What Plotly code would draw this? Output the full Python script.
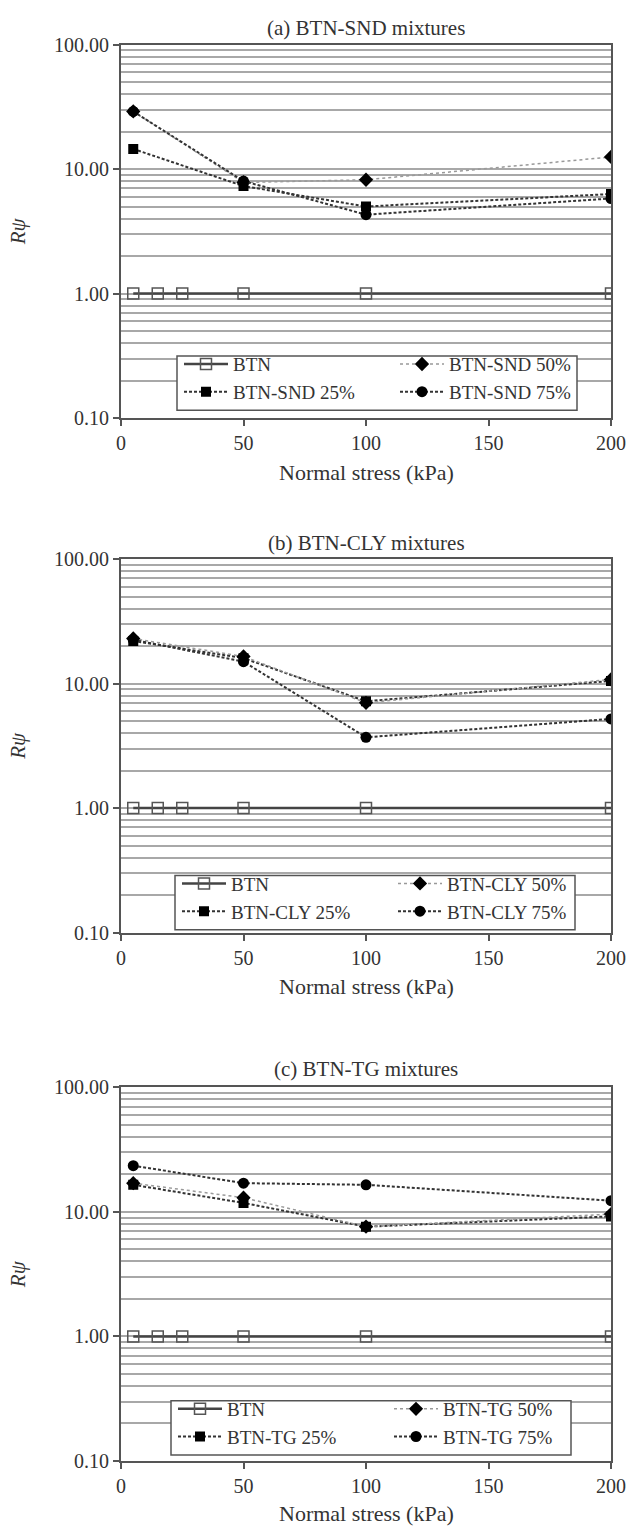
import plotly.graph_objects as go

# ---------------- data ----------------
x_btn = [5, 15, 25, 50, 100, 200]
y_btn = [1, 1, 1, 1, 1, 1]
x_mix = [5, 50, 100, 200]

snd_25 = [14.5, 7.3, 5.0, 6.3]
snd_50 = [29, 7.8, 8.2, 12.5]
snd_75 = [29, 8.0, 4.3, 5.8]

cly_25 = [22, 16, 7.2, 10.5]
cly_50 = [23, 16.5, 7.0, 10.8]
cly_75 = [22.5, 15, 3.7, 5.2]

tg_25 = [16.5, 11.8, 7.6, 9.2]
tg_50 = [17, 13, 7.6, 9.6]
tg_75 = [23.5, 17, 16.5, 12.3]

panels = [
    ("(a) BTN-SND mixtures", "BTN-SND", snd_25, snd_50, snd_75),
    ("(b) BTN-CLY mixtures", "BTN-CLY", cly_25, cly_50, cly_75),
    ("(c) BTN-TG mixtures", "BTN-TG", tg_25, tg_50, tg_75),
]

x_ticks = [0, 50, 100, 150, 200]
y_ticks = [0.1, 1, 10, 100]
y_ticktext = ["0.10", "1.00", "10.00", "100.00"]

# ---------------- layout geometry (pixels) ----------------
W, H = 631, 1535
ML, MR = 121, 20
plot_px = [(34, 413), (556, 935), (1092, 1471)]   # top, bottom of each plot area
title_px = [17, 540, 1073]
xtitle_px = [468, 990, 1524]
legend_box_px = [(177, 350, 577, 405), (175, 877, 575, 932), (171, 1410, 571, 1465)]

FONT = "Liberation Serif, Times New Roman, Times, serif"
GRID = "#a8a8a8"
AXC = "#555555"
TXT = "#333333"

fig = go.Figure()

def py(p):
    return 1 - p / H

def px_x(p):
    return (p - ML) / (W - ML - MR)

leg_idx = 1
for i, (title, name, s25, s50, s75) in enumerate(panels):
    n = "" if i == 0 else str(i + 1)
    xa, ya = "x" + n, "y" + n
    lgA = "legend" if leg_idx == 1 else "legend" + str(leg_idx)
    lgB = "legend" + str(leg_idx + 1)
    leg_idx += 2

    fig.add_trace(go.Scatter(
        x=x_btn, y=y_btn, name="BTN", mode="lines+markers",
        line=dict(color="#444444", width=2.5),
        marker=dict(symbol="square-open", size=11, color="#555555", line=dict(width=1.5)),
        xaxis=xa, yaxis=ya, legend=lgA, legendrank=1))
    fig.add_trace(go.Scatter(
        x=x_mix, y=s25, name=name + " 25%", mode="lines+markers",
        line=dict(color="#333333", width=2, dash="3px,2px"),
        marker=dict(symbol="square", size=10, color="black"),
        xaxis=xa, yaxis=ya, legend=lgA, legendrank=2))
    fig.add_trace(go.Scatter(
        x=x_mix, y=s50, name=name + " 50%", mode="lines+markers",
        line=dict(color="#999999", width=1.5, dash="dot"),
        marker=dict(symbol="diamond", size=11, color="black"),
        xaxis=xa, yaxis=ya, legend=lgB, legendrank=1))
    fig.add_trace(go.Scatter(
        x=x_mix, y=s75, name=name + " 75%", mode="lines+markers",
        line=dict(color="#333333", width=2, dash="3px,2px"),
        marker=dict(symbol="circle", size=11, color="black"),
        xaxis=xa, yaxis=ya, legend=lgB, legendrank=2))

    top, bot = plot_px[i]
    fig.layout["xaxis" + n] = dict(
        domain=[0, 1], anchor=ya, range=[0, 200], tickvals=x_ticks,
        ticks="outside", ticklen=6, tickwidth=1.5, tickcolor=AXC,
        showline=True, linecolor=AXC, linewidth=2, mirror=True,
        showgrid=False, zeroline=False,
        tickfont=dict(family=FONT, size=20, color=TXT))
    fig.layout["yaxis" + n] = dict(
        domain=[py(bot), py(top)], anchor=xa, type="log", range=[-1, 2],
        tickvals=y_ticks, ticktext=y_ticktext,
        ticks="outside", ticklen=6, tickwidth=1.5, tickcolor=AXC,
        showline=True, linecolor=AXC, linewidth=2, mirror=True,
        showgrid=True, gridcolor=GRID, gridwidth=1.5,
        minor=dict(dtick="D1", showgrid=True, gridcolor=GRID, gridwidth=1.5, ticks=""),
        zeroline=False,
        tickfont=dict(family=FONT, size=20, color=TXT))

    x0, y0, x1, y1 = legend_box_px[i]
    common = dict(orientation="v", itemwidth=44, tracegroupgap=0, yanchor="top",
                  xanchor="left", bgcolor="rgba(0,0,0,0)", borderwidth=0,
                  font=dict(family=FONT, size=19, color=TXT))
    fig.layout[lgA] = dict(x=px_x(x0 + 2), y=py(y0 - 11), **common)
    fig.layout[lgB] = dict(x=px_x(x0 + 218), y=py(y0 - 11), **common)
    fig.add_shape(type="rect", xref="paper", yref="paper",
                  x0=px_x(x0), x1=px_x(x1), y0=py(y1), y1=py(y0),
                  line=dict(color=AXC, width=1.5), fillcolor="white", layer="above")

    fig.add_annotation(text=title, xref="paper", yref="paper", x=0.5, y=py(title_px[i]),
                       xanchor="center", yanchor="middle", showarrow=False,
                       font=dict(family=FONT, size=21, color=TXT))
    fig.add_annotation(text="Normal stress (kPa)", xref="paper", yref="paper", x=0.5,
                       y=py(xtitle_px[i]), xanchor="center", yanchor="middle", showarrow=False,
                       font=dict(family=FONT, size=22, color=TXT))
    fig.add_annotation(text="<i>Rψ</i>", xref="paper", yref="paper", x=px_x(18),
                       y=py((top + bot) / 2), xanchor="center", yanchor="middle",
                       textangle=-90, showarrow=False,
                       font=dict(family=FONT, size=21, color=TXT))

fig.update_layout(
    width=W, height=H, margin=dict(l=ML, r=MR, t=0, b=0),
    paper_bgcolor="white", plot_bgcolor="white", showlegend=True)

fig.write_html("out.html")
